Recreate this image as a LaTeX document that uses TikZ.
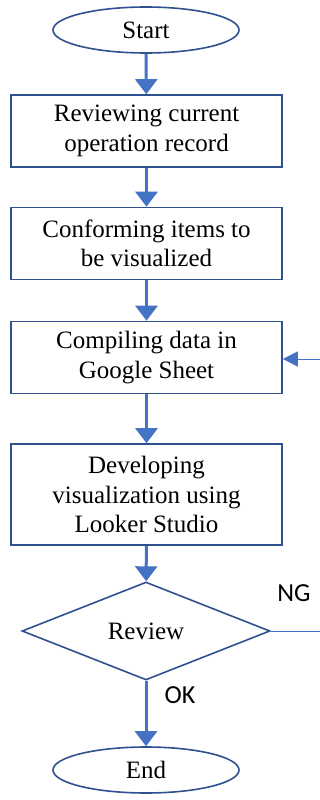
\documentclass[tikz,border=0pt]{standalone}
\usepackage{fontspec}
\setmainfont{Liberation Serif}
\newfontfamily\labelfont{Carlito}
\usetikzlibrary{shapes.geometric,arrows.meta}
\definecolor{flowblue}{HTML}{4472C4}
\definecolor{edgeblue}{HTML}{2F528F}

\begin{document}
\begin{tikzpicture}[x=1pt,y=-1pt,
        terminal/.style={ellipse,draw=edgeblue,line width=1.6pt,fill=white,
            minimum width=186pt,minimum height=46pt,inner sep=0pt,
            font=\fontsize{25}{30}\selectfont},
        process/.style={rectangle,draw=edgeblue,line width=1.6pt,fill=white,
            minimum width=271pt,minimum height=72pt,inner sep=0pt,align=center,
            font=\fontsize{25}{29.5}\selectfont},
        decision/.style={diamond,draw=edgeblue,line width=1.6pt,fill=white,
            minimum width=248pt,minimum height=98pt,inner sep=0pt,
            font=\fontsize{25}{30}\selectfont},
        flow/.style={flowblue,line width=3pt,-{Triangle[width=22pt,length=15pt]}},
        loopline/.style={flowblue,line width=1pt},
        answer/.style={font=\labelfont\fontsize{26}{30}\selectfont}]
        \useasboundingbox (0,0) rectangle (320,800);
        \node[terminal] (start) at (146,30) {Start};
        \node[process] (review) at (146.5,131) {Reviewing current\\operation record};
        \node[process] (items) at (146.5,243.5) {Conforming items to\\be visualized};
        \node[process] (compile) at (146.5,357.5) {Compiling data in\\Google Sheet};
        \node[process,minimum height=101pt] (develop) at (146.5,494.5) {Developing\\visualization using\\Looker Studio};
        \node[decision] (check) at (146,631) {Review};
        \node[terminal] (end) at (146,770) {End};
        \node[answer] (ng) at (294,593) {NG};
        \node[answer] (ok) at (180,695) {OK};
        \coordinate (ngout) at (320,631);
        \coordinate (ngin) at (320,359);

        \foreach \a/\b in {start/review,review/items,items/compile,compile/develop,develop/check,check/end}
            \draw[flow] (\a) -- (\b);
        \draw[loopline] (check.east) -- (ngout);
        \draw[loopline,-{Triangle[width=15pt,length=15pt]}] (ngin) -- (ngin -| compile.east);
    \end{tikzpicture}
\end{document}
